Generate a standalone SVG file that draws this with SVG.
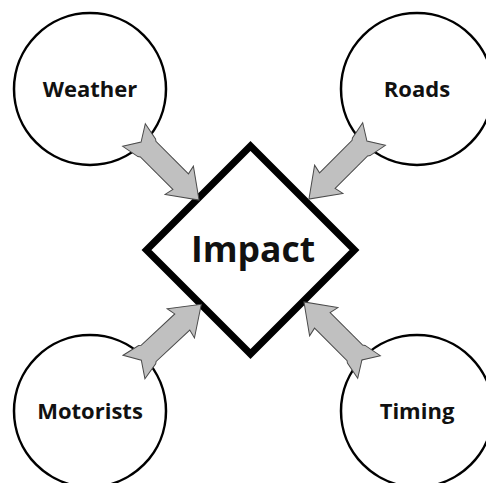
<svg xmlns="http://www.w3.org/2000/svg" xmlns:xlink="http://www.w3.org/1999/xlink" width="486" height="483" viewBox="0 0 486 483">
<style>
.node circle{fill:#fff;stroke:#000;stroke-width:2.5}
.lbl{font-family:"Open Sans","Liberation Sans",sans-serif;font-weight:700;font-size:22px;fill:#111;text-anchor:middle}
.big{font-size:35.5px}
.arr{fill:#c0c0c0;stroke:#4a4a4a;stroke-width:1;stroke-linejoin:miter}
</style>
<defs>
<path id="arrow" d="M0,-16 L18,-12.5 L20,-11 L66,-11 L64,-20 L92,0 L64,20 L66,11 L20,11 L18,12.5 L0,16 L10,0 Z"/>
</defs>
<rect width="486" height="483" fill="#fff"/>
<g id="weather" class="node"><circle cx="90" cy="89" r="76"/><text class="lbl" x="90" y="97">Weather</text></g>
<g id="roads" class="node"><circle cx="417" cy="89" r="76"/><text class="lbl" x="417" y="97">Roads</text></g>
<g id="motorists" class="node"><circle cx="90" cy="411" r="76"/><text class="lbl" x="90" y="419">Motorists</text></g>
<g id="timing" class="node"><circle cx="417" cy="411" r="76"/><text class="lbl" x="417" y="419">Timing</text></g>
<g id="impact"><polygon points="250.5,146 354.5,250 250.5,354 146.5,250" fill="#fff" stroke="#000" stroke-width="7" stroke-linejoin="miter"/><text class="lbl big" x="253" y="262">Impact</text></g>
<g id="connectors">
<use xlink:href="#arrow" href="#arrow" class="arr" transform="translate(134,135) rotate(45)"/>
<use xlink:href="#arrow" href="#arrow" class="arr" transform="translate(374,134) rotate(135)"/>
<use xlink:href="#arrow" href="#arrow" class="arr" transform="translate(134,367) rotate(-43)"/>
<use xlink:href="#arrow" href="#arrow" class="arr" transform="translate(369,367) rotate(-135)"/>
</g>
</svg>
